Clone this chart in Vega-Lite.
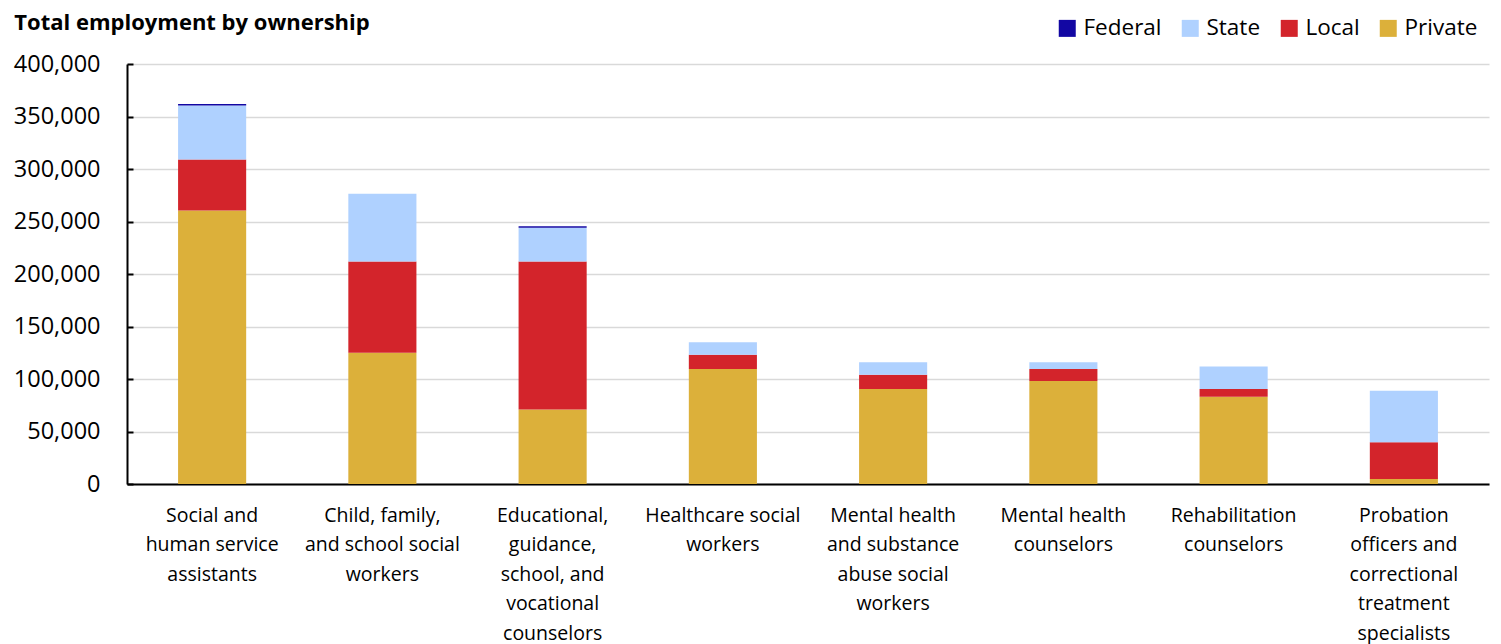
{
  "$schema": "https://vega.github.io/schema/vega-lite/v6.json",
  "width": 1362,
  "height": 420,
  "autosize": {"type": "none"},
  "padding": {"left": 127, "top": 64, "right": 12, "bottom": 160},
  "background": "white",
  "title": {
    "text": "Total employment by ownership",
    "anchor": "start",
    "frame": "bounds",
    "font": "Open Sans",
    "fontSize": 22,
    "fontWeight": "bold",
    "color": "#000000",
    "offset": 22,
    "dy": 40,
    "dx": 1
  },
  "datasets": {
    "owners": [
      {"owner": "Private", "stackIndex": 1},
      {"owner": "Local", "stackIndex": 2},
      {"owner": "State", "stackIndex": 3},
      {"owner": "Federal", "stackIndex": 4}
    ]
  },
  "data": {
    "values": [
      {"occ": "Social and|human service|assistants", "owner": "Private", "emp": 260500},
      {"occ": "Social and|human service|assistants", "owner": "Local", "emp": 48500},
      {"occ": "Social and|human service|assistants", "owner": "State", "emp": 51500},
      {"occ": "Social and|human service|assistants", "owner": "Federal", "emp": 1500},
      {"occ": "Child, family,|and school social|workers", "owner": "Private", "emp": 125000},
      {"occ": "Child, family,|and school social|workers", "owner": "Local", "emp": 87000},
      {"occ": "Child, family,|and school social|workers", "owner": "State", "emp": 64500},
      {"occ": "Child, family,|and school social|workers", "owner": "Federal", "emp": 0},
      {"occ": "Educational,|guidance,|school, and|vocational|counselors", "owner": "Private", "emp": 71000},
      {"occ": "Educational,|guidance,|school, and|vocational|counselors", "owner": "Local", "emp": 141000},
      {"occ": "Educational,|guidance,|school, and|vocational|counselors", "owner": "State", "emp": 32000},
      {"occ": "Educational,|guidance,|school, and|vocational|counselors", "owner": "Federal", "emp": 1500},
      {"occ": "Healthcare social|workers", "owner": "Private", "emp": 109500},
      {"occ": "Healthcare social|workers", "owner": "Local", "emp": 13500},
      {"occ": "Healthcare social|workers", "owner": "State", "emp": 12000},
      {"occ": "Healthcare social|workers", "owner": "Federal", "emp": 0},
      {"occ": "Mental health|and substance|abuse social|workers", "owner": "Private", "emp": 90500},
      {"occ": "Mental health|and substance|abuse social|workers", "owner": "Local", "emp": 13500},
      {"occ": "Mental health|and substance|abuse social|workers", "owner": "State", "emp": 12000},
      {"occ": "Mental health|and substance|abuse social|workers", "owner": "Federal", "emp": 0},
      {"occ": "Mental health|counselors", "owner": "Private", "emp": 98000},
      {"occ": "Mental health|counselors", "owner": "Local", "emp": 11500},
      {"occ": "Mental health|counselors", "owner": "State", "emp": 6500},
      {"occ": "Mental health|counselors", "owner": "Federal", "emp": 0},
      {"occ": "Rehabilitation|counselors", "owner": "Private", "emp": 83000},
      {"occ": "Rehabilitation|counselors", "owner": "Local", "emp": 7500},
      {"occ": "Rehabilitation|counselors", "owner": "State", "emp": 21500},
      {"occ": "Rehabilitation|counselors", "owner": "Federal", "emp": 0},
      {"occ": "Probation|officers and|correctional|treatment|specialists", "owner": "Private", "emp": 4800},
      {"occ": "Probation|officers and|correctional|treatment|specialists", "owner": "Local", "emp": 35000},
      {"occ": "Probation|officers and|correctional|treatment|specialists", "owner": "State", "emp": 49000},
      {"occ": "Probation|officers and|correctional|treatment|specialists", "owner": "Federal", "emp": 0}
    ]
  },
  "transform": [
    {"lookup": "owner", "from": {"data": {"name": "owners"}, "key": "owner", "fields": ["stackIndex"]}}
  ],
  "mark": {"type": "bar"},
  "encoding": {
    "x": {
      "field": "occ",
      "type": "nominal",
      "sort": null,
      "scale": {"paddingInner": 0.6, "paddingOuter": 0.3},
      "axis": {
        "title": null,
        "labelAngle": 0,
        "labelExpr": "split(datum.label, '|')",
        "labelFont": "Open Sans",
        "labelFontSize": 19.5,
        "labelColor": "#000000",
        "labelLineHeight": 29.5,
        "labelPadding": 22,
        "labelLimit": 300,
        "ticks": false,
        "domainColor": "#000000",
        "domainWidth": 2
      }
    },
    "y": {
      "field": "emp",
      "type": "quantitative",
      "stack": "zero",
      "scale": {"domain": [0, 400000], "nice": false},
      "axis": {
        "title": null,
        "values": [0, 50000, 100000, 150000, 200000, 250000, 300000, 350000, 400000],
        "labelExpr": "format(datum.value, ',')",
        "labelFont": "Open Sans",
        "labelFontSize": 23.5,
        "labelColor": "#000000",
        "tickSize": -6,
        "tickColor": "#000000",
        "tickWidth": 2,
        "labelPadding": 33,
        "domainColor": "#000000",
        "domainWidth": 2,
        "grid": true,
        "gridColor": "#d9d9d9",
        "gridWidth": 1.5
      }
    },
    "color": {
      "field": "owner",
      "type": "nominal",
      "scale": {
        "domain": ["Federal", "State", "Local", "Private"],
        "range": ["#1207a3", "#afd1ff", "#d3242b", "#dcb03a"]
      },
      "legend": {
        "title": null,
        "orient": "none",
        "direction": "horizontal",
        "legendX": 929,
        "legendY": -47,
        "padding": 0,
        "symbolType": "square",
        "symbolSize": 289,
        "symbolStrokeWidth": 0,
        "labelFont": "Open Sans",
        "labelFontSize": 22.5,
        "labelColor": "#000000",
        "labelOffset": 5,
        "columnPadding": 17,
        "labelLimit": 200
      }
    },
    "order": {"field": "stackIndex", "type": "quantitative", "sort": "ascending"}
  },
  "config": {
    "view": {"stroke": null}
  }
}
